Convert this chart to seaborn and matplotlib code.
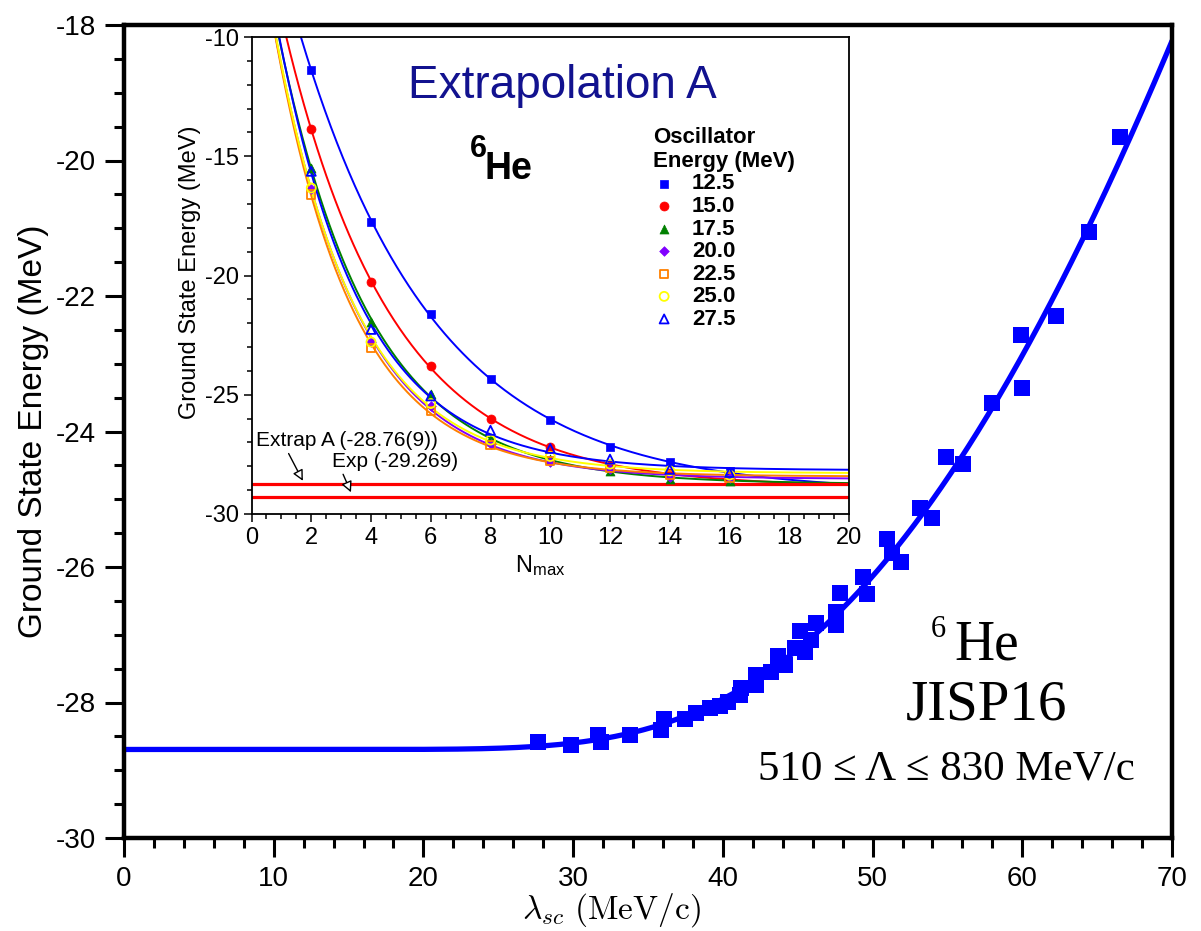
import numpy as np
import matplotlib
matplotlib.use("Agg")
import matplotlib.pyplot as plt
import seaborn as sns
from matplotlib.ticker import MultipleLocator

# ---------------- data ----------------
# Main panel: ground-state energy of 6He versus lambda_sc
lam_sc = [27.62, 29.85, 31.68, 31.86, 33.82, 35.88, 36.05, 37.44, 38.22, 39.11,
          39.78, 40.34, 41.12, 41.23, 42.24, 42.24, 43.24, 43.69, 44.13, 44.80,
          45.13, 45.47, 45.90, 46.25, 47.59, 47.59, 47.81, 49.37, 49.60, 50.98,
          51.32, 51.87, 53.17, 54.00, 54.89, 56.02, 57.99, 59.90, 59.99, 62.27,
          64.48, 66.55]
e_gs = [-28.58, -28.63, -28.48, -28.59, -28.48, -28.40, -28.25, -28.25, -28.16, -28.08,
        -28.05, -27.99, -27.89, -27.78, -27.59, -27.74, -27.55, -27.32, -27.45, -27.20,
        -26.95, -27.25, -27.08, -26.83, -26.66, -26.86, -26.38, -26.15, -26.40, -25.58,
        -25.80, -25.93, -25.13, -25.27, -24.38, -24.48, -23.58, -22.57, -23.36, -22.30,
        -21.05, -19.65]

# Inset: ground-state energy versus N_max for each oscillator energy
nmax = [2, 4, 6, 8, 10, 12, 14, 16]
e_hw125 = [-11.38, -17.75, -21.60, -24.35, -26.07, -27.17, -27.84, -28.19]
e_hw150 = [-13.86, -20.29, -23.79, -26.02, -27.18, -27.98, -28.30, -28.54]
e_hw175 = [-15.49, -21.94, -24.98, -26.82, -27.70, -28.19, -28.54, -28.61]
e_hw200 = [-16.36, -22.78, -25.47, -27.07, -27.81, -28.13, -28.43, -28.50]
e_hw225 = [-16.61, -23.03, -25.68, -27.11, -27.77, -28.08, -28.37, -28.47]
e_hw250 = [-16.33, -22.79, -25.37, -26.90, -27.59, -27.91, -28.19, -28.37]
e_hw275 = [-15.63, -22.26, -25.05, -26.49, -27.25, -27.70, -28.13, -28.26]
hw_labels = ["12.5", "15.0", "17.5", "20.0", "22.5", "25.0", "27.5"]

extrap_a = -28.76
exp_energy = -29.269

# ---------------- styling ----------------
sns.set_style("ticks")
plt.rcParams["font.family"] = ["Liberation Sans", "DejaVu Sans"]
plt.rcParams["mathtext.fontset"] = "cm"
plt.rcParams["axes.unicode_minus"] = False
for key in ("text.color", "axes.labelcolor", "xtick.color", "ytick.color", "axes.edgecolor"):
    plt.rcParams[key] = "black"

series = [
    (e_hw125, "#0000ff", "s", True),
    (e_hw150, "#ff0000", "o", True),
    (e_hw175, "#008000", "^", True),
    (e_hw200, "#8000ff", "D", True),
    (e_hw225, "#ff8000", "s", False),
    (e_hw250, "#ffff00", "o", False),
    (e_hw275, "#0000ff", "^", False),
]
marker_sizes = {"s": 36, "o": 42, "^": 42, "D": 24}


def fit_offset_exp(x, y, rates, transform):
    """Least-squares fit of y = c0 + c1*exp(-b*transform(x)) over a grid of b."""
    x = np.asarray(x, float)
    y = np.asarray(y, float)
    best = None
    for b in rates:
        basis = np.column_stack([np.ones_like(x), np.exp(-b * transform(x))])
        coef, *_ = np.linalg.lstsq(basis, y, rcond=None)
        r = np.sum((basis @ coef - y) ** 2)
        if best is None or r < best[0]:
            best = (r, b, coef)
    return best[1], best[2]


fig = plt.figure(figsize=(12.01, 9.31), dpi=100)
W, H = 1201, 931
ax = fig.add_axes([124 / W, 1 - 838 / H, 1048 / W, 813 / H])
ax_in = fig.add_axes([251.5 / W, 1 - 514 / H, 597.5 / W, 477 / H])

# ---------------- main panel ----------------
b_main, c_main = fit_offset_exp(lam_sc, e_gs, np.linspace(50, 700, 1301), lambda v: 1.0 / v)
lam_grid = np.linspace(0.05, 70, 700)
e_fit = c_main[0] + c_main[1] * np.exp(-b_main / lam_grid)
sns.lineplot(x=lam_grid, y=e_fit, ax=ax, color="#0000ff", lw=3.8, zorder=2)
sns.scatterplot(x=lam_sc, y=e_gs, ax=ax, marker="s", s=135, color="#0000ff",
                edgecolor="#0000ff", linewidth=0, zorder=3)

ax.set_xlim(0, 70)
ax.set_ylim(-30, -18)
ax.xaxis.set_major_locator(MultipleLocator(10))
ax.xaxis.set_minor_locator(MultipleLocator(2))
ax.yaxis.set_major_locator(MultipleLocator(2))
ax.yaxis.set_minor_locator(MultipleLocator(0.5))
ax.tick_params(axis="both", which="major", direction="out", length=14, width=2.2,
               labelsize=20, color="black", pad=6)
ax.tick_params(axis="both", which="minor", direction="out", length=7, width=2.2,
               color="black")
ax.tick_params(top=False, right=False, bottom=True, left=True, which="both")
for sp in ax.spines.values():
    sp.set_visible(True)
    sp.set_linewidth(3.2)
    sp.set_color("black")
ax.set_xlabel(r"$\lambda_{sc}\ \mathrm{(MeV/c)}$", fontsize=24)
ax.set_ylabel("Ground State Energy (MeV)", fontsize=24)
ax.xaxis.set_label_coords(0.465, -0.065)
ax.yaxis.set_label_coords(-0.072, 0.5)

serif = ["Liberation Serif", "DejaVu Serif"]
fig.text(931 / W, 1 - 615 / H, "6", family=serif, fontsize=22, ha="left", va="top")
fig.text(987 / W, 1 - 660 / H, "He", family=serif, fontsize=40, ha="center", va="baseline")
fig.text(987 / W, 1 - 720 / H, "JISP16", family=serif, fontsize=41, ha="center", va="baseline")
fig.text(946 / W, 1 - 780 / H, "510 \u2264 \u039b \u2264 830 MeV/c", family=serif, fontsize=31,
         ha="center", va="baseline")

# ---------------- inset ----------------
ax_in.set_facecolor("white")
n_grid = np.linspace(0, 20, 400)
for vals, col, mk, filled in series:
    b, c = fit_offset_exp(nmax, vals, np.linspace(0.05, 1.5, 1451), lambda v: v)
    sns.lineplot(x=n_grid, y=c[0] + c[1] * np.exp(-b * n_grid), ax=ax_in,
                 color=col, lw=1.4, zorder=2)

ax_in.axhline(extrap_a, color="#ff0000", lw=2.3, zorder=2.5)
ax_in.axhline(exp_energy, color="#ff0000", lw=2.3, zorder=2.5)

for (vals, col, mk, filled), lab in zip(series, hw_labels):
    if filled:
        sns.scatterplot(x=nmax, y=vals, ax=ax_in, marker=mk, s=marker_sizes[mk],
                        color=col, edgecolor=col, linewidth=0.5, zorder=3, label=lab)
    else:
        sns.scatterplot(x=nmax, y=vals, ax=ax_in, marker=mk, s=marker_sizes[mk],
                        facecolor="none", edgecolor=col, linewidth=1.3, zorder=3, label=lab)

ax_in.set_xlim(0, 20)
ax_in.set_ylim(-30, -10)
ax_in.xaxis.set_major_locator(MultipleLocator(2))
ax_in.xaxis.set_minor_locator(MultipleLocator(0.5))
ax_in.yaxis.set_major_locator(MultipleLocator(5))
ax_in.yaxis.set_minor_locator(MultipleLocator(1))
ax_in.tick_params(axis="both", which="major", direction="out", length=6, width=1.1,
                  labelsize=17, color="black", pad=3)
ax_in.tick_params(axis="both", which="minor", direction="out", length=3.5, width=1.1,
                  color="black")
ax_in.tick_params(top=False, right=False, bottom=True, left=True, which="both")
for sp in ax_in.spines.values():
    sp.set_visible(True)
    sp.set_linewidth(1.3)
    sp.set_color("black")
ax_in.set_xlabel(r"$\mathregular{N_{max}}$", fontsize=17)
ax_in.set_ylabel("Ground State Energy (MeV)", fontsize=17)
ax_in.xaxis.set_label_coords(0.483, -0.083)
ax_in.yaxis.set_label_coords(-0.085, 0.506)

ax_in.text(0.521, 0.8715, "Extrapolation A", transform=ax_in.transAxes, fontsize=33,
           color="#12128f", ha="center", va="baseline")
ax_in.text(0.366, 0.797, "6", transform=ax_in.transAxes, fontsize=22, fontweight="bold",
           ha="left", va="top")
ax_in.text(0.39, 0.702, "He", transform=ax_in.transAxes, fontsize=27, fontweight="bold",
           ha="left", va="baseline")

arrow = dict(arrowstyle="-|>", fc="white", ec="black", lw=1.0, mutation_scale=16,
             shrinkA=0, shrinkB=0)
ax_in.annotate("Extrap A (-28.76(9))", xy=(1.72, -28.61), xytext=(0.15, -27.16),
               fontsize=15, ha="left", va="baseline",
               arrowprops=dict(arrow, relpos=(0.17, 0.0)))
ax_in.annotate("Exp (-29.269)", xy=(3.33, -29.09), xytext=(2.68, -28.03),
               fontsize=15, ha="left", va="baseline",
               arrowprops=dict(arrow, relpos=(0.08, 0.0)))

leg = ax_in.legend(loc="upper left", bbox_to_anchor=(0.672, 0.812), frameon=False,
                   title="Oscillator\nEnergy (MeV)", alignment="left",
                   prop={"weight": "bold", "size": 16},
                   title_fontproperties={"weight": "bold", "size": 16},
                   handlelength=1.0, handletextpad=0.75, labelspacing=0.07,
                   borderpad=0, borderaxespad=0, markerscale=1.0)

fig.savefig("out.png", dpi=100)
